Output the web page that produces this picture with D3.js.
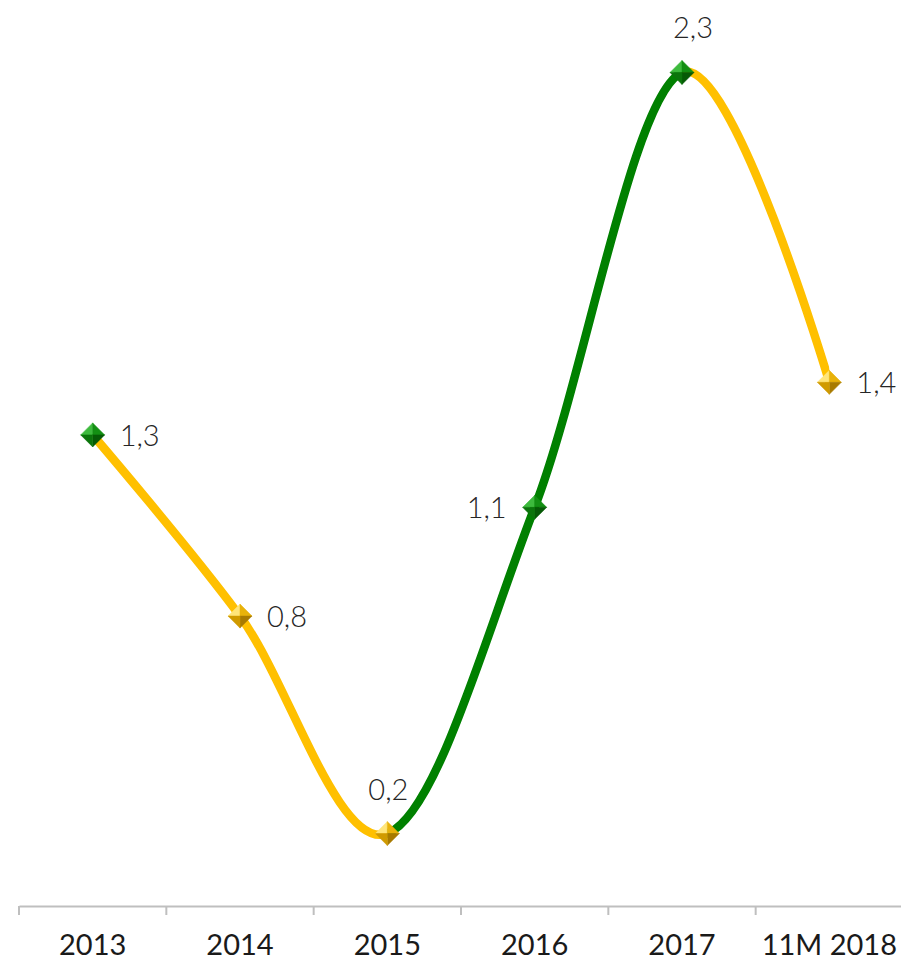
<!DOCTYPE html>
<html>
<head>
<meta charset="utf-8">
<script src="https://cdn.jsdelivr.net/npm/d3@7"></script>
<style>
  html, body { margin: 0; padding: 0; background: #fff; }
  svg { display: block; }
</style>
</head>
<body>
<svg id="chart" width="901" height="960"></svg>
<script>
const categories = ['2013', '2014', '2015', '2016', '2017', '11M 2018'];
const values = [1.3, 0.8, 0.2, 1.1, 2.3, 1.445];
const valueLabels = ['1,3', '0,8', '0,2', '1,1', '2,3', '1,4'];
const labelSides = ['right', 'right', 'top', 'left', 'top', 'right'];
const markerColors = ['green', 'yellow', 'yellow', 'green', 'green', 'yellow'];
const segmentColors = ['yellow', 'yellow', 'green', 'green', 'yellow'];

const WIDTH = 901;
const HEIGHT = 960;
const LEFT = 19;
const RIGHT = 903;
const BASE = 906;

const palette = {
  yellow: { line: '#FFC000', light: '#FFE57A', mid: '#E8B20A', dark: '#A87A00', side: '#D09A00' },
  green: { line: '#008000', light: '#3DBA3D', mid: '#138F13', dark: '#065A06', side: '#0B750B' }
};

const svg = d3.select('#chart');

const x = d3.scaleBand().domain(categories).range([LEFT, RIGHT]);
const y = d3.scaleLinear().domain([0, 2.5]).range([BASE, 0]);

const pts = categories.map((c, i) => [x(c) + x.bandwidth() / 2, y(values[i])]);

// axis
const axis = svg.append('g').attr('transform', `translate(0,${BASE})`)
  .call(d3.axisBottom(x).tickSize(0).tickPadding(28));
axis.select('.domain').attr('stroke', '#BFBFBF').attr('stroke-width', 2);
axis.selectAll('text')
  .attr('font-family', 'Lato, sans-serif')
  .attr('font-size', 29)
  .attr('fill', '#1a1a1a');
axis.selectAll('.tk')
  .data(categories)
  .join('line')
  .attr('class', 'tk')
  .attr('x1', d => x(d)).attr('x2', d => x(d))
  .attr('y1', 0).attr('y2', 9)
  .attr('stroke', '#BFBFBF').attr('stroke-width', 2);

// line segments: one smooth curve, clipped per segment for colouring
const line = d3.line().curve(d3.curveCardinal.tension(0));
const defs = svg.append('defs');
segmentColors.forEach((col, i) => {
  defs.append('clipPath').attr('id', 'seg' + i)
    .append('rect')
    .attr('x', pts[i][0]).attr('y', 0)
    .attr('width', pts[i + 1][0] - pts[i][0]).attr('height', HEIGHT);
  svg.append('path')
    .attr('d', line(pts))
    .attr('clip-path', `url(#seg${i})`)
    .attr('fill', 'none')
    .attr('stroke', palette[col].line)
    .attr('stroke-width', 8.5);
});

// pyramid markers
const R = 12;
const markers = svg.append('g').selectAll('g')
  .data(pts)
  .join('g')
  .attr('transform', d => `translate(${d[0]},${d[1]})`);
const facets = [
  { k: 'light', p: [[0, -R], [-R, 0], [0, 0]] },
  { k: 'mid', p: [[0, -R], [R, 0], [0, 0]] },
  { k: 'dark', p: [[R, 0], [0, R], [0, 0]] },
  { k: 'side', p: [[0, R], [-R, 0], [0, 0]] }
];
markers.each(function (d, i) {
  const col = palette[markerColors[i]];
  d3.select(this).selectAll('path')
    .data(facets)
    .join('path')
    .attr('d', f => 'M' + f.p.map(q => q.join(',')).join('L') + 'Z')
    .attr('fill', f => col[f.k])
    .attr('stroke', f => col[f.k])
    .attr('stroke-width', 0.5);
});

// value labels
svg.append('g').selectAll('text')
  .data(pts)
  .join('text')
  .attr('font-family', 'Lato, sans-serif')
  .attr('font-weight', 300)
  .attr('font-size', 29)
  .attr('fill', '#262626')
  .attr('x', (d, i) => labelSides[i] === 'right' ? d[0] + 27
    : labelSides[i] === 'left' ? d[0] - 28 : d[0] + (i === 4 ? 11 : 1))
  .attr('y', (d, i) => labelSides[i] === 'top' ? d[1] - 34 : d[1] + 11)
  .attr('text-anchor', (d, i) => labelSides[i] === 'right' ? 'start'
    : labelSides[i] === 'left' ? 'end' : 'middle')
  .text((d, i) => valueLabels[i]);
</script>
</body>
</html>
